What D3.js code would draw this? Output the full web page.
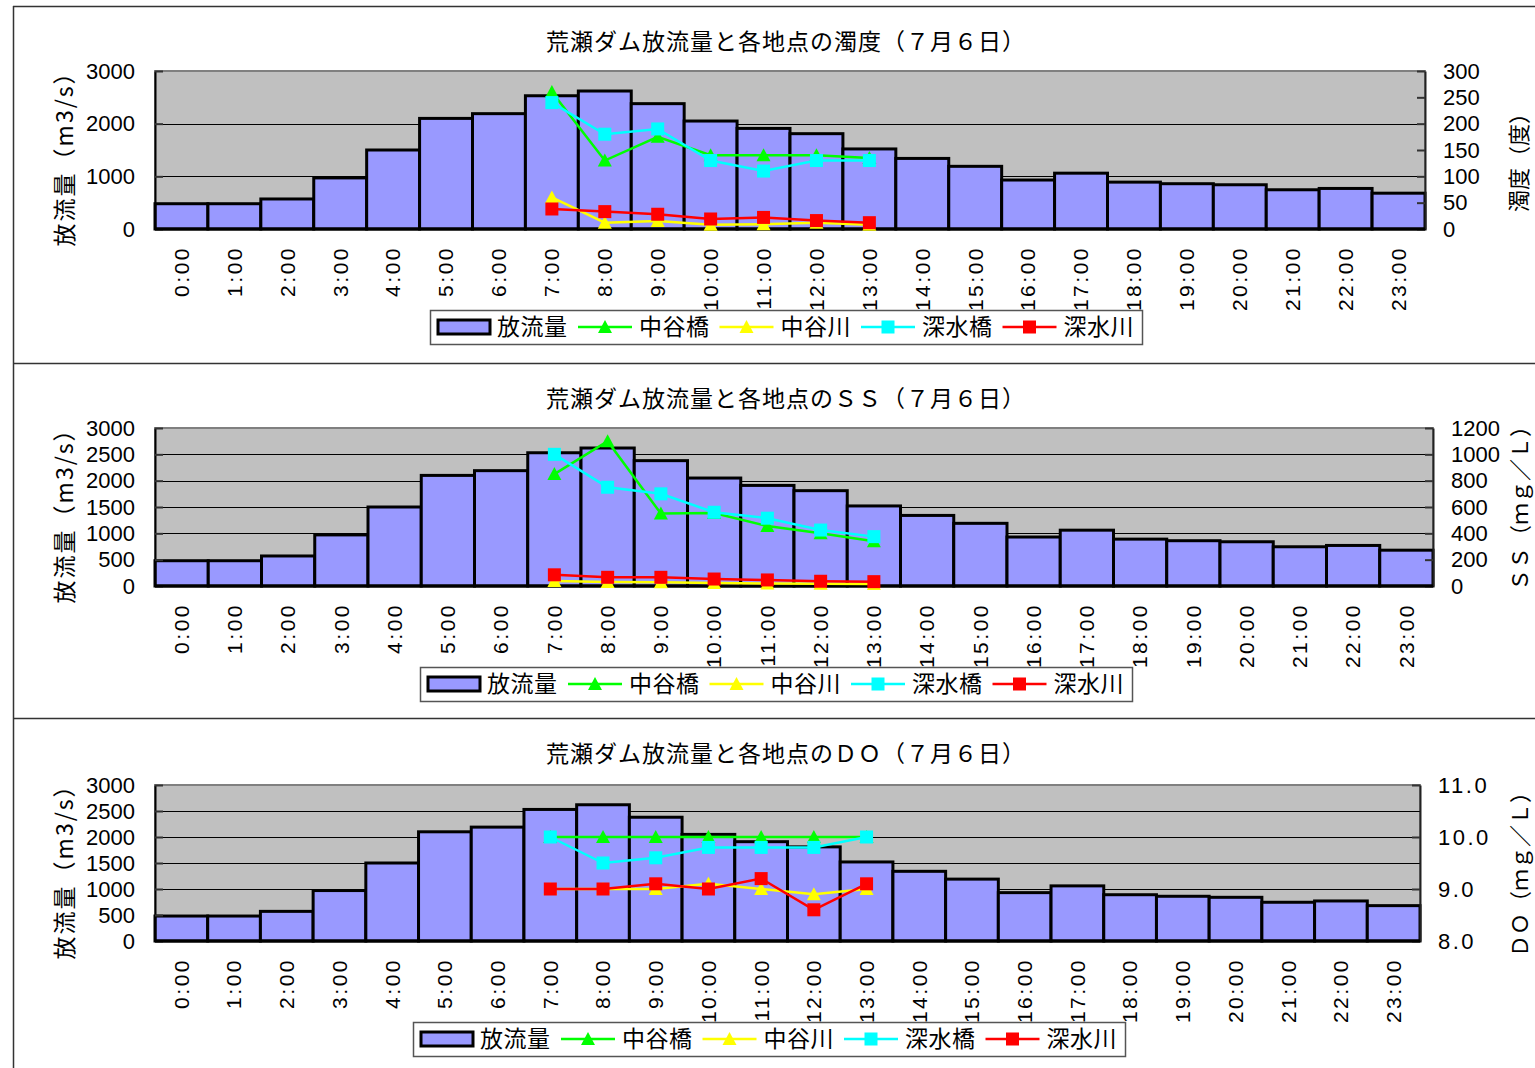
<!DOCTYPE html>
<html><head><meta charset="utf-8">
<script src="https://cdn.jsdelivr.net/npm/d3@7"></script>
<style>
html,body{margin:0;padding:0;background:#fff;}
svg{display:block;}
text{font-family:"Liberation Sans","Noto Sans CJK JP",sans-serif;fill:#000;}
.jp{font-family:"Noto Sans CJK JP","Liberation Sans",sans-serif;}
</style></head>
<body>
<svg id="c" width="1535" height="1068"></svg>
<script>
// ---------- data ----------
const hours = ["0:00","1:00","2:00","3:00","4:00","5:00","6:00","7:00","8:00","9:00","10:00","11:00",
               "12:00","13:00","14:00","15:00","16:00","17:00","18:00","19:00","20:00","21:00","22:00","23:00"];
const flow = [480,480,570,970,1500,2100,2190,2530,2620,2380,2050,1910,1810,1520,1340,1190,930,1060,890,860,840,745,770,680];
const obsHours = ["7:00","8:00","9:00","10:00","11:00","12:00","13:00"];
const seriesNames = ["中谷橋","中谷川","深水橋","深水川"];
const flowName = "放流量";

// turbidity (度)
const turbNakataniBashi = [260,130,175,140,140,140,135];
const turbNakataniGawa  = [60,12,15,8,9,12,8];
const turbFukamiBashi   = [240,180,190,130,110,130,130];
const turbFukamiGawa    = [38,33,28,19,22,16,12];
// SS (mg/L)
const ssNakataniBashi = [850,1100,550,555,455,400,340];
const ssNakataniGawa  = [38,30,28,23,19,17,15];
const ssFukamiBashi   = [1000,750,700,560,515,425,375];
const ssFukamiGawa    = [85,66,66,53,46,36,33];
// DO (mg/L)
const doNakataniBashi = [10.0,10.0,10.0,10.0,10.0,10.0,10.0];
const doNakataniGawa  = [9.0,9.0,9.0,9.1,9.0,8.9,9.0];
const doFukamiBashi   = [10.0,9.5,9.6,9.8,9.8,9.8,10.0];
const doFukamiGawa    = [9.0,9.0,9.1,9.0,9.2,8.6,9.1];

// ticks
const flowTicks1 = [0,1000,2000,3000];
const flowTicks2 = [0,500,1000,1500,2000,2500,3000];
const turbTicks = [0,50,100,150,200,250,300];
const ssTicks = [0,200,400,600,800,1000,1200];
const doTicks = [8,9,10,11];

const titles = ["荒瀬ダム放流量と各地点の濁度（７月６日）","荒瀬ダム放流量と各地点のＳＳ（７月６日）","荒瀬ダム放流量と各地点のＤＯ（７月６日）"];
const leftTitle = "放流量（m3/s）";
const rightTitles = ["濁度（度）","ＳＳ（ｍｇ／Ｌ）","ＤＯ（ｍｇ／Ｌ）"];

// ---------- styles ----------
const colors = ["#00ff00","#ffff00","#00ffff","#ff0000"];
const markers = ["tri","tri","sq","sq"];
const barFill = "#9999ff";

const svg = d3.select("#c");

// frame
const frame = svg.append("g").attr("stroke","#333").attr("stroke-width",1.5);
frame.append("line").attr("x1",13).attr("x2",1535).attr("y1",6.5).attr("y2",6.5);
frame.append("line").attr("x1",13).attr("x2",1535).attr("y1",363.5).attr("y2",363.5);
frame.append("line").attr("x1",13).attr("x2",1535).attr("y1",718.5).attr("y2",718.5);
frame.append("line").attr("x1",13.5).attr("x2",13.5).attr("y1",6).attr("y2",1068);

const charts = [
  {title:titles[0], titleY:42, plot:{l:155,r:1425,t:71,b:229}, lTicks:flowTicks1, rDomain:[0,300], rTicks:turbTicks,
   rFmt:d=>String(d), rSpacing:0, rTitle:rightTitles[0], rTitleX:1519, rTitleDy:7,
   series:[turbNakataniBashi,turbNakataniGawa,turbFukamiBashi,turbFukamiGawa], legend:{x:430,y:310}},
  {title:titles[1], titleY:399, plot:{l:155,r:1433,t:428,b:586}, lTicks:flowTicks2, rDomain:[0,1200], rTicks:ssTicks,
   rFmt:d=>String(d), rSpacing:0, rTitle:rightTitles[1], rTitleX:1520, rTitleDy:-4,
   series:[ssNakataniBashi,ssNakataniGawa,ssFukamiBashi,ssFukamiGawa], legend:{x:420,y:667}},
  {title:titles[2], titleY:754, plot:{l:155,r:1420,t:785,b:941}, lTicks:flowTicks2, rDomain:[8,11], rTicks:doTicks,
   rFmt:d3.format(".1f"), rSpacing:2.5, rTitle:rightTitles[2], rTitleX:1520, rTitleDy:6,
   series:[doNakataniBashi,doNakataniGawa,doFukamiBashi,doFukamiGawa], legend:{x:413,y:1022}}
];

function marker(g, type, x, y, color){
  if(type==="tri"){
    g.append("path").attr("d",`M${x},${y-7}L${x+7},${y+6}L${x-7},${y+6}Z`).attr("fill",color);
  } else {
    g.append("rect").attr("x",x-6.5).attr("y",y-6.5).attr("width",13).attr("height",13).attr("fill",color);
  }
}

charts.forEach(c=>{
  const p = c.plot;
  const g = svg.append("g");
  const x = d3.scaleBand().domain(hours).range([p.l,p.r]).padding(0);
  const yL = d3.scaleLinear().domain([0,3000]).range([p.b,p.t]);
  const yR = d3.scaleLinear().domain(c.rDomain).range([p.b,p.t]);

  // title
  g.append("text").attr("class","jp").attr("x",786).attr("y",c.titleY).attr("dy","0.35em")
    .attr("text-anchor","middle").attr("font-size",23).attr("letter-spacing",1).text(c.title);

  // plot background
  g.append("rect").attr("x",p.l).attr("y",p.t).attr("width",p.r-p.l).attr("height",p.b-p.t)
    .attr("fill","#c0c0c0").attr("stroke","#808080").attr("stroke-width",2);

  // gridlines
  g.append("g").selectAll("line").data(c.lTicks.filter(v=>v>0 && v<3000)).join("line")
    .attr("x1",p.l).attr("x2",p.r).attr("y1",d=>Math.round(yL(d))+0.5).attr("y2",d=>Math.round(yL(d))+0.5)
    .attr("stroke","#000").attr("stroke-width",1);

  // bars
  g.append("g").selectAll("rect").data(flow).join("rect")
    .attr("x",(d,i)=>x(hours[i])).attr("width",x.bandwidth())
    .attr("y",d=>yL(d)).attr("height",d=>p.b-yL(d))
    .attr("fill",barFill).attr("stroke","#000").attr("stroke-width",3);

  // left axis
  const la = g.append("g").attr("transform",`translate(${p.l},0)`)
    .call(d3.axisLeft(yL).tickValues(c.lTicks).tickFormat(d=>String(d)).tickSizeInner(-8).tickSizeOuter(0).tickPadding(20));
  la.select(".domain").attr("stroke","#000").attr("stroke-width",2);
  la.selectAll(".tick line").attr("stroke","#333").attr("stroke-width",2);
  la.selectAll("text").attr("font-size",22).attr("font-family","Liberation Sans");

  // right axis
  const ra = g.append("g").attr("transform",`translate(${p.r},0)`)
    .call(d3.axisRight(yR).tickValues(c.rTicks).tickFormat(c.rFmt).tickSizeInner(-8).tickSizeOuter(0).tickPadding(18));
  ra.select(".domain").attr("stroke","#222").attr("stroke-width",2);
  ra.selectAll(".tick line").attr("stroke","#333").attr("stroke-width",2);
  ra.selectAll("text").attr("font-size",22).attr("font-family","Liberation Sans").attr("letter-spacing",c.rSpacing);

  // bottom axis line
  g.append("line").attr("x1",p.l).attr("x2",p.r).attr("y1",p.b).attr("y2",p.b).attr("stroke","#000").attr("stroke-width",3);

  // x labels
  g.append("g").selectAll("text").data(hours).join("text")
    .attr("transform",d=>`translate(${x(d)+x.bandwidth()/2},${p.b+17}) rotate(-90)`)
    .attr("dy","0.35em").attr("text-anchor","end").attr("font-size",21).attr("letter-spacing",2.5)
    .text(d=>d);

  // axis titles
  g.append("text").attr("class","jp")
    .attr("transform",`translate(65,${(p.t+p.b)/2+3}) rotate(-90)`)
    .attr("dy","0.35em").attr("text-anchor","middle").attr("font-size",23).attr("letter-spacing",2).text(leftTitle);
  g.append("text").attr("class","jp")
    .attr("transform",`translate(${c.rTitleX},${(p.t+p.b)/2+c.rTitleDy}) rotate(-90)`)
    .attr("dy","0.35em").attr("text-anchor","middle").attr("font-size",22).text(c.rTitle);

  // line series
  c.series.forEach((vals,si)=>{
    const pts = vals.map((v,i)=>[x(obsHours[i])+x.bandwidth()/2, yR(v)]);
    g.append("path").attr("d",d3.line()(pts)).attr("fill","none").attr("stroke",colors[si]).attr("stroke-width",2.5);
    const mg = g.append("g");
    pts.forEach(pt=>marker(mg,markers[si],pt[0],pt[1],colors[si]));
  });

  // legend
  const L = c.legend;
  const lg = g.append("g").attr("transform",`translate(${L.x},${L.y})`);
  lg.append("rect").attr("x",0.5).attr("y",0.5).attr("width",712).attr("height",34)
    .attr("fill","#fff").attr("stroke","#555").attr("stroke-width",1.5);
  const my = 17;
  lg.append("rect").attr("x",8).attr("y",my-7).attr("width",52).attr("height",14)
    .attr("fill",barFill).attr("stroke","#000").attr("stroke-width",3);
  lg.append("text").attr("class","jp").attr("x",67).attr("y",my).attr("dy","0.35em").attr("font-size",23).attr("letter-spacing",0.5).text(flowName);
  seriesNames.forEach((n,si)=>{
    const x0 = 148 + si*141.5;
    lg.append("line").attr("x1",x0).attr("x2",x0+54).attr("y1",my).attr("y2",my)
      .attr("stroke",colors[si]).attr("stroke-width",2.5);
    marker(lg,markers[si],x0+27,my,colors[si]);
    lg.append("text").attr("class","jp").attr("x",x0+61).attr("y",my).attr("dy","0.35em").attr("font-size",23).attr("letter-spacing",0.5).text(n);
  });
});
</script>
</body></html>
